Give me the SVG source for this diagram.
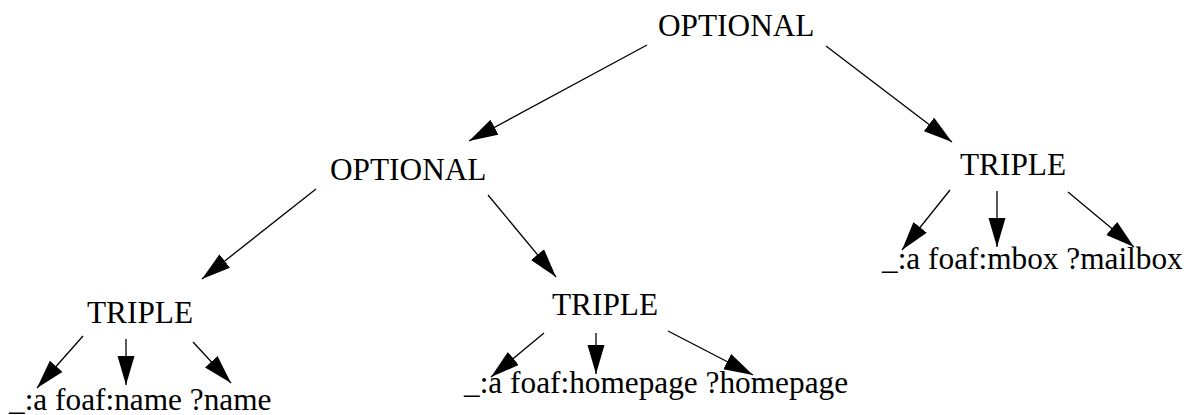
<svg xmlns="http://www.w3.org/2000/svg" width="1194" height="415" viewBox="0 0 1194 415">
<style>
text{font-family:'Liberation Serif','Times New Roman',serif;font-size:31.3px;fill:#000}
.e line{stroke:#000;stroke-width:1.3;marker-end:url(#ah)}
</style>
<defs>
<marker id="ah" markerUnits="userSpaceOnUse" markerWidth="30" markerHeight="18" refX="29" refY="8.5" orient="auto">
<path d="M0,0 L29,8.5 L0,17 z" fill="#000"/>
</marker>
</defs>
<rect width="1194" height="415" fill="#fff"/>
<g id="opt-top"><text x="658" y="36">OPTIONAL</text></g>
<g id="opt-2"><text x="330" y="180">OPTIONAL</text></g>
<g id="triple-1"><text x="87" y="323">TRIPLE</text></g>
<g id="triple-2"><text x="552" y="315">TRIPLE</text></g>
<g id="triple-3"><text x="960" y="175">TRIPLE</text></g>
<g id="leaf-1"><text x="9" y="410">_:a foaf:name ?name</text></g>
<g id="leaf-2"><text x="464" y="393">_:a foaf:homepage ?homepage</text></g>
<g id="leaf-3"><text x="882" y="269">_:a foaf:mbox ?mailbox</text></g>
<g id="connectors" class="e">
<line x1="647" y1="45" x2="469" y2="141"/>
<line x1="826" y1="46" x2="952" y2="142"/>
<line x1="316" y1="189" x2="202" y2="279"/>
<line x1="488" y1="195" x2="556" y2="277"/>
<line x1="83" y1="336" x2="37" y2="388"/>
<line x1="126" y1="339" x2="126" y2="385"/>
<line x1="193" y1="342" x2="231" y2="383"/>
<line x1="544" y1="333" x2="491" y2="377"/>
<line x1="596" y1="333" x2="596" y2="374"/>
<line x1="668" y1="331" x2="753" y2="375"/>
<line x1="950" y1="190" x2="902" y2="250"/>
<line x1="997" y1="191" x2="997" y2="247"/>
<line x1="1068" y1="192" x2="1134" y2="247"/>
</g>
</svg>
